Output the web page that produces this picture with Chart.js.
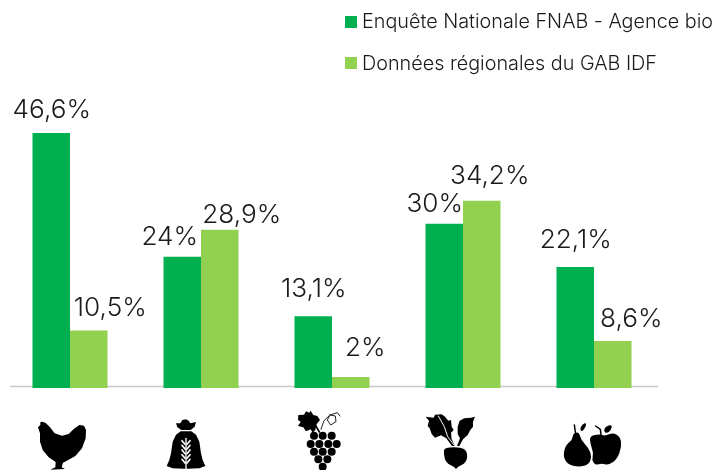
<!DOCTYPE html>
<html><head><meta charset="utf-8">
<style>html,body{margin:0;padding:0;background:#fff;overflow:hidden}canvas{display:block}</style>
<script src="https://cdn.jsdelivr.net/npm/chart.js@4"></script></head>
<body><canvas id="c" width="717" height="470"></canvas>
<script>
const categories = ["Poules pondeuses","Céréales","Viticulture","Légumes","Fruits"];
const seriesNational = [46.6,24,13.1,30,22.1];
const seriesRegional = [10.5,28.9,2,34.2,8.6];
const labelsNational = ["46,6%","24%","13,1%","30%","22,1%"];
const labelsRegional = ["10,5%","28,9%","2%","34,2%","8,6%"];
const nameNational = "Enquête Nationale FNAB - Agence bio";
const nameRegional = "Données régionales du GAB IDF";
const colorNational = "#00b050";
const colorRegional = "#92d050";
// nudges applied to the value labels: [dx, dy above the bar top]
const nudgeNational = [[0.5,23],[-12.5,20],[0.5,27.5],[-9.5,20],[0.5,27]];
const nudgeRegional = [[21.5,22],[22,15],[14.5,29],[8,25],[18.5,22]];
const FONT = '300 26.2px Inter, "Open Sans", sans-serif';
const LEGEND_FONT = '300 19.8px Inter, "Open Sans", sans-serif';

const iconNudge = [-8,-15,-12,-12,-1];
function smooth(ctx, p){
  const n=p.length; ctx.beginPath();
  ctx.moveTo((p[n-1][0]+p[0][0])/2,(p[n-1][1]+p[0][1])/2);
  for(let i=0;i<n;i++){const q=p[(i+1)%n];ctx.quadraticCurveTo(p[i][0],p[i][1],(p[i][0]+q[0])/2,(p[i][1]+q[1])/2);}
  ctx.closePath(); ctx.fill();
}
function poly(ctx,p){ctx.beginPath();p.forEach((a,i)=>i?ctx.lineTo(a[0],a[1]):ctx.moveTo(a[0],a[1]));ctx.closePath();ctx.fill();}
function line(ctx,p,w,col){ctx.save();ctx.strokeStyle=col;ctx.lineWidth=w;ctx.lineCap="round";ctx.beginPath();p.forEach((a,i)=>i?ctx.lineTo(a[0],a[1]):ctx.moveTo(a[0],a[1]));ctx.stroke();ctx.restore();}
const icons = [
 function chicken(ctx){
  poly(ctx,[[-72,172],[-65,165],[-65,156],[-58,155],[-48,160],[-36,172],[-22,190],[0,197],[20,192],[36,176],[52,165],[66,167],[72,180],[71,205],[60,235],[40,258],[12,274],[3,278],[-1,292],[9,297],[-35,299],[-20,292],[-19,276],[-40,262],[-58,240],[-66,215],[-66,190]]);
 },
 function bag(ctx){
  poly(ctx,[[-30,160],[-17,160],[-11,150],[0,148],[8,152],[13,160],[30,156],[26,170],[14,180],[-14,180],[-26,172]]);
  poly(ctx,[[-16,184],[16,184],[30,194],[40,215],[45,250],[50,270],[58,288],[40,295],[5,296],[-5,296],[-40,295],[-58,288],[-50,270],[-45,250],[-40,215],[-30,194]]);
  const w="#fff";
  line(ctx,[[0,205],[0,296]],4,w);
  [212,226,240,254,268].forEach((y)=>{
    line(ctx,[[-12,y],[-3,y+11]],5,w);line(ctx,[[12,y],[3,y+11]],5,w);
  });
 },
 function grapes(ctx){
  poly(ctx,[[-65,135],[-48,134],[-42,124],[-32,128],[-28,122],[-20,135],[-8,138],[0,150],[-10,162],[-14,180],[-22,188],[-28,178],[-42,184],[-50,172],[-66,168],[-58,155],[-66,150]]);
  line(ctx,[[3,178],[12,152],[30,135],[52,128],[60,138]],3,"#222");
  line(ctx,[[30,135],[22,150],[32,165],[48,155],[46,138],[30,135]],3,"#222");
  line(ctx,[[-14,165],[-2,186]],5,"#000");
  [[-18,197],[8,197],[35,197],[-28,222],[-2,222],[25,222],[50,222],[-18,245],[8,245],[35,245],[-5,268],[22,268],[8,290]].forEach(([x,y])=>{
    ctx.beginPath();ctx.arc(x,y,12,0,Math.PI*2);ctx.fill();
  });
 },
 function beet(ctx){
  smooth(ctx,[[-20,232],[36,232],[50,250],[46,278],[18,292],[15,299],[12,292],[-16,278],[-22,250]]);
  poly(ctx,[[-76,140],[-52,143],[-48,134],[-28,133],[-18,140],[-8,152],[0,150],[2,170],[8,180],[0,188],[2,208],[12,228],[3,228],[-14,205],[-30,196],[-48,203],[-58,192],[-64,175],[-70,168],[-66,152]]);
  poly(ctx,[[72,140],[60,143],[40,145],[26,152],[20,170],[20,192],[27,205],[18,228],[25,228],[36,208],[50,195],[58,180],[66,170],[66,155]]);
  line(ctx,[[-38,138],[-20,170],[-10,200],[10,226]],3,"#fff");
 },
 function fruits(ctx){
  smooth(ctx,[[-60,190],[-42,186],[-36,210],[-12,235],[-4,260],[-12,283],[-42,292],[-76,283],[-90,258],[-82,225],[-62,210]]);
  line(ctx,[[-52,192],[-56,165]],4.5,"#000");
  smooth(ctx,[[-40,175],[-30,162],[-20,158],[-22,172],[-34,186]]);
  smooth(ctx,[[-10,198],[20,192],[36,198],[60,188],[82,200],[86,232],[72,268],[46,286],[26,280],[8,286],[-4,270],[2,250],[-8,222]]);
  line(ctx,[[24,194],[22,178],[8,168]],4.5,"#000");
  smooth(ctx,[[32,185],[36,170],[58,163],[54,180],[42,190]]);
 }
];
const extras = {
 id:"extras",
 beforeDatasetsDraw(chart){
  const {ctx,scales:{y}}=chart, yy=y.getPixelForValue(0)-1.5;
  ctx.save();ctx.strokeStyle="#c9c9c9";ctx.lineWidth=1.5;ctx.beginPath();ctx.moveTo(10,yy);ctx.lineTo(658,yy);ctx.stroke();ctx.restore();
 },
 afterDatasetsDraw(chart){
  const {ctx,scales:{x}}=chart;
  ctx.save();
  ctx.textAlign="center";ctx.textBaseline="middle";ctx.font=FONT;ctx.fillStyle="#1a1a1a";
  [[labelsNational,nudgeNational],[labelsRegional,nudgeRegional]].forEach(([labels,nudge],d)=>{
    chart.getDatasetMeta(d).data.forEach((bar,i)=>{
      ctx.fillText(labels[i],bar.x+nudge[i][0],bar.y-nudge[i][1]);
    });
  });
  // legend
  ctx.textAlign="left";ctx.font=LEGEND_FONT;
  chart.data.datasets.forEach((ds,i)=>{
    const ly=22+i*41;
    ctx.fillStyle=ds.backgroundColor;ctx.fillRect(345,ly-6,12,12);
    ctx.fillStyle="#1a1a1a";ctx.fillText(ds.label,362,ly+(i?1:0));
  });
  // icons
  ctx.fillStyle="#000";
  icons.forEach((draw,i)=>{
    ctx.save();
    ctx.translate(x.getPixelForValue(i)+iconNudge[i],370);
    ctx.scale(1/3,1/3);
    draw(ctx);
    ctx.restore();
  });
  ctx.restore();
 }
};
new Chart(document.getElementById("c"),{
 type:"bar",
 data:{labels:categories,datasets:[
  {label:nameNational,data:seriesNational,backgroundColor:colorNational,borderWidth:0},
  {label:nameRegional,data:seriesRegional,backgroundColor:colorRegional,borderWidth:0}
 ]},
 options:{
  responsive:false,animation:false,
  layout:{padding:{left:4.5,right:57.5,top:8,bottom:82}},
  datasets:{bar:{categoryPercentage:75/131,barPercentage:1}},
  plugins:{legend:{display:false},tooltip:{enabled:false},title:{display:false}},
  scales:{
   x:{display:false,grid:{display:false}},
   y:{display:false,min:0,max:69.44,grid:{display:false}}
  }
 },
 plugins:[extras]
});
</script></body></html>
